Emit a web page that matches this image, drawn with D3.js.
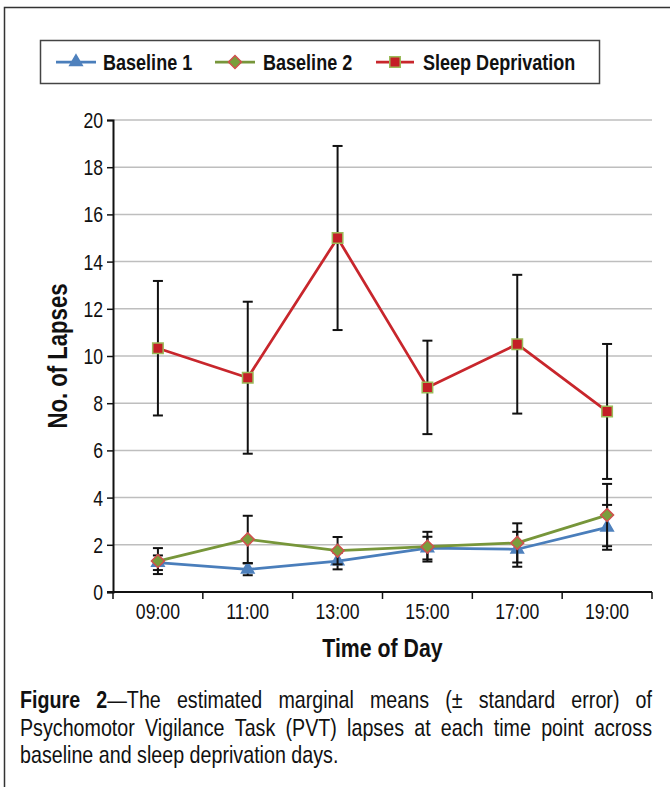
<!DOCTYPE html>
<html>
<head>
<meta charset="utf-8">
<script src="https://cdn.jsdelivr.net/npm/d3@7"></script>
<style>
  html, body { margin: 0; padding: 0; background: #fff; }
  svg { display: block; }
  text { font-family: "Liberation Sans", Arial, Helvetica, sans-serif; fill: #111; }
</style>
</head>
<body>
<svg id="chart" width="670" height="787"></svg>
<script>
// ---- data ----
const times = ["09:00", "11:00", "13:00", "15:00", "17:00", "19:00"];
const seriesNames = ["Baseline 1", "Baseline 2", "Sleep Deprivation"];
const baseline1 = [1.24, 0.96, 1.31, 1.86, 1.81, 2.74];
const baseline1Err = [0.31, 0.25, 0.35, 0.48, 0.74, 0.95];
const baseline2 = [1.31, 2.23, 1.75, 1.92, 2.08, 3.26];
const baseline2Err = [0.55, 1.00, 0.58, 0.63, 0.83, 1.32];
const sleepDep = [10.33, 9.08, 15.00, 8.67, 10.50, 7.65];
const sleepDepErr = [2.85, 3.22, 3.90, 1.98, 2.94, 2.86];
const yTicks = [0, 2, 4, 6, 8, 10, 12, 14, 16, 18, 20];
const xTitle = "Time of Day";
const yTitle = "No. of Lapses";
const captionBold = "Figure 2";
const captionLines = [
  "Figure 2—The estimated marginal means (± standard error) of",
  "Psychomotor Vigilance Task (PVT) lapses at each time point across",
  "baseline and sleep deprivation days."
];

// ---- styling ----
const NARROW = 0.82;   // horizontal squeeze giving a condensed sans face
const styles = [
  { line: "#4A7EBB", fill: "#4F81BD", stroke: "#4F81BD", shape: "triangle" },
  { line: "#77963A", fill: "#7A9E3C", stroke: "#D0504D", shape: "diamond" },
  { line: "#C8262C", fill: "#C41E26", stroke: "#9BBB59", shape: "square" }
];
const series = [
  { name: seriesNames[0], values: baseline1, err: baseline1Err, style: styles[0] },
  { name: seriesNames[1], values: baseline2, err: baseline2Err, style: styles[1] },
  { name: seriesNames[2], values: sleepDep, err: sleepDepErr, style: styles[2] }
];

const svg = d3.select("#chart");

// condensed text helper: squeezes the text about its anchor point
function squeeze(sel, x, y, k = NARROW, rot = 0) {
  sel.attr("x", null).attr("y", null)
     .attr("transform", `translate(${x},${y})${rot ? ` rotate(${rot})` : ""} scale(${k},1)`);
  return sel;
}

// outer figure frame (top and left edges fall inside the view)
svg.append("rect")
  .attr("x", 4.5).attr("y", 7.5)
  .attr("width", 700).attr("height", 820)
  .attr("fill", "none").attr("stroke", "#333").attr("stroke-width", 1.5);

// ---- scales ----
const plot = { left: 113, right: 652, top: 120, bottom: 592 };
const x = d3.scaleBand().domain(times).range([plot.left, plot.right]).padding(0);
const cx = d => x(d) + x.bandwidth() / 2;
const y = d3.scaleLinear().domain([0, 20]).range([plot.bottom, plot.top]);

// gridlines
svg.append("g").selectAll("line")
  .data(yTicks.filter(v => v > 0))
  .join("line")
  .attr("x1", plot.left).attr("x2", plot.right)
  .attr("y1", d => y(d)).attr("y2", d => y(d))
  .attr("stroke", "#BEBEBE").attr("stroke-width", 1.5);

// y axis
const yAxis = svg.append("g")
  .attr("transform", `translate(${plot.left},0)`)
  .call(d3.axisLeft(y).tickValues(yTicks).tickSize(6).tickPadding(9));
yAxis.select(".domain").attr("stroke", "#111").attr("stroke-width", 2);
yAxis.selectAll(".tick line").attr("stroke", "#111").attr("stroke-width", 1.5);
yAxis.selectAll(".tick text")
  .attr("font-size", 21.5).attr("font-family", null).attr("dy", "0.35em")
  .each(function () { squeeze(d3.select(this), -10, 0); });

// x axis: labels centred in each band, tick marks on band edges
const xAxis = svg.append("g")
  .attr("transform", `translate(0,${plot.bottom})`);
xAxis.append("line")
  .attr("x1", plot.left - 6).attr("x2", plot.right)
  .attr("stroke", "#111").attr("stroke-width", 2);
xAxis.selectAll(".edge")
  .data(times.map(t => x(t)).concat([plot.right]))
  .join("line").attr("class", "edge")
  .attr("x1", d => d).attr("x2", d => d)
  .attr("y1", 0).attr("y2", 7)
  .attr("stroke", "#111").attr("stroke-width", 1.5);
xAxis.selectAll(".lbl")
  .data(times)
  .join("text").attr("class", "lbl")
  .attr("text-anchor", "middle").attr("font-size", 21.5)
  .text(d => d)
  .each(function (d) { squeeze(d3.select(this), cx(d), 27); });

// axis titles
squeeze(svg.append("text")
  .attr("text-anchor", "middle").attr("font-size", 26).attr("font-weight", "bold")
  .text(xTitle), (plot.left + plot.right) / 2, 657);
squeeze(svg.append("text")
  .attr("text-anchor", "middle").attr("font-size", 27).attr("font-weight", "bold")
  .text(yTitle), 67, 356, NARROW, -90);

// ---- marks ----
function markerPath(shape) {
  if (shape === "triangle") return d3.symbol(d3.symbolTriangle, 68)();
  if (shape === "diamond") return d3.symbol(d3.symbolSquare, 84)();
  return d3.symbol(d3.symbolSquare, 110)();
}
function markerTransform(shape, px, py) {
  return shape === "diamond" ? `translate(${px},${py}) rotate(45)` : `translate(${px},${py})`;
}

const line = d3.line().x((v, i) => cx(times[i])).y(v => y(v));
const capHalf = 5;

series.forEach(s => {
  const g = svg.append("g");
  g.append("path")
    .attr("d", line(s.values))
    .attr("fill", "none")
    .attr("stroke", s.style.line).attr("stroke-width", 2.75)
    .attr("stroke-linejoin", "round");

  const eb = g.append("g").attr("stroke", "#111").attr("stroke-width", 2);
  s.values.forEach((v, i) => {
    const px = cx(times[i]);
    const lo = y(v - s.err[i]), hi = y(v + s.err[i]);
    eb.append("line").attr("x1", px).attr("x2", px).attr("y1", lo).attr("y2", hi);
    eb.append("line").attr("x1", px - capHalf).attr("x2", px + capHalf).attr("y1", lo).attr("y2", lo);
    eb.append("line").attr("x1", px - capHalf).attr("x2", px + capHalf).attr("y1", hi).attr("y2", hi);
  });

  g.append("g").selectAll("path")
    .data(s.values)
    .join("path")
    .attr("d", markerPath(s.style.shape))
    .attr("transform", (v, i) => markerTransform(s.style.shape, cx(times[i]), y(v)))
    .attr("fill", s.style.fill)
    .attr("stroke", s.style.stroke).attr("stroke-width", 1.5);
});

// ---- legend ----
const legend = svg.append("g");
legend.append("rect")
  .attr("x", 40.5).attr("y", 40.5).attr("width", 559).attr("height", 43)
  .attr("fill", "#fff").attr("stroke", "#444").attr("stroke-width", 1.5);
const legendItems = [
  { x0: 56, x1: 96, tx: 103 },
  { x0: 215, x1: 255, tx: 263 },
  { x0: 376, x1: 414, tx: 423 }
];
series.forEach((s, i) => {
  const it = legendItems[i];
  const ly = 62;
  legend.append("line")
    .attr("x1", it.x0).attr("x2", it.x1).attr("y1", ly).attr("y2", ly)
    .attr("stroke", s.style.line).attr("stroke-width", 2.75);
  legend.append("path")
    .attr("d", markerPath(s.style.shape))
    .attr("transform", markerTransform(s.style.shape, (it.x0 + it.x1) / 2, ly))
    .attr("fill", s.style.fill)
    .attr("stroke", s.style.stroke).attr("stroke-width", 1.5);
  squeeze(legend.append("text")
    .attr("font-size", 22).attr("font-weight", "bold")
    .text(s.name), it.tx, 69.5);
});

// ---- caption (first two lines justified) ----
const cap = { left: 20, right: 652, size: 24, base: 708, lead: 27.5 };
let boldLeft = captionBold.length;
captionLines.forEach((ln, li) => {
  const words = ln.split(" ");
  const nodes = [];
  let offset = 0;
  words.forEach(w => {
    const t = svg.append("text").attr("font-size", cap.size);
    // split the bold figure label from the regular text
    const nb = Math.max(0, Math.min(w.length, boldLeft - offset));
    if (li === 0 && nb > 0) t.append("tspan").attr("font-weight", "bold").text(w.slice(0, nb));
    const rest = li === 0 ? w.slice(nb) : w;
    if (rest) t.append("tspan").text(rest);
    nodes.push({ t, w: t.node().getComputedTextLength() * NARROW });
    offset += w.length + 1;
  });
  const total = d3.sum(nodes, n => n.w);
  const justify = li < captionLines.length - 1;
  const gap = justify ? (cap.right - cap.left - total) / (nodes.length - 1)
                      : cap.size * 0.278 * NARROW;
  let px = cap.left;
  const py = cap.base + li * cap.lead;
  nodes.forEach(n => {
    squeeze(n.t, px, py);
    px += n.w + gap;
  });
});
</script>
</body>
</html>
